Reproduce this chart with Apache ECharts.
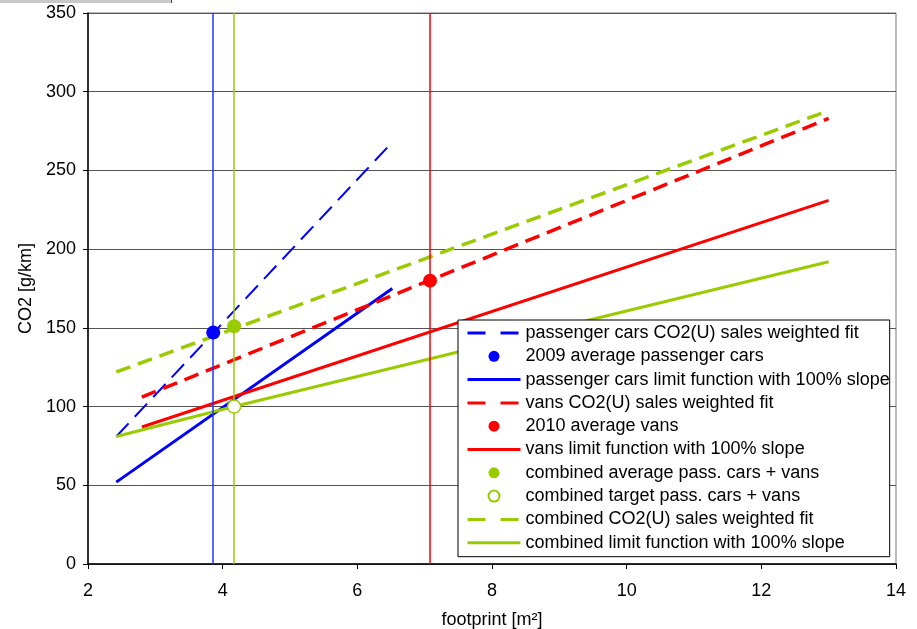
<!DOCTYPE html>
<html><head><meta charset="utf-8">
<script src="https://cdn.jsdelivr.net/npm/echarts@6/dist/echarts.min.js"></script>
<style>html,body{margin:0;padding:0;background:#fff}#c{width:917px;height:629px}</style>
</head><body><div id="c"></div>
<script>
// ---- data ----
const xTicks = [2, 4, 6, 8, 10, 12, 14];
const yTicks = [0, 50, 100, 150, 200, 250, 300, 350];
const seriesNames = [
  'passenger cars CO2(U) sales weighted fit',
  '2009 average passenger cars',
  'passenger cars limit function with 100% slope',
  'vans CO2(U) sales weighted fit',
  '2010 average vans',
  'vans limit function with 100% slope',
  'combined average pass. cars + vans',
  'combined target pass. cars + vans',
  'combined CO2(U) sales weighted fit',
  'combined limit function with 100% slope'
];
const pcFit = [[2.42, 81], [6.52, 268]];
const pcAvg = [[3.86, 147]];
const pcLimit = [[2.42, 52], [6.52, 175]];
const vanFit = [[2.8, 106], [13, 283]];
const vanAvg = [[7.08, 180]];
const vanLimit = [[2.8, 87], [13, 231]];
const combAvg = [[4.17, 151]];
const combTarget = [[4.17, 100]];
const combFit = [[2.42, 122], [13, 288]];
const combLimit = [[2.42, 81], [4.17, 100], [13, 192]];
const vLineX = { pc: 3.86, comb: 4.17, van: 7.08 };

// ---- styles ----
const BLUE = '#0000ff', RED = '#ff0000', GREEN = '#99cc00';
const FONT = "'Liberation Sans', Arial, sans-serif";

function lineSeries(name, data, color, width, dashed, dash) {
  return {
    name, type: 'line', data, symbol: 'none', silent: true, z: 3,
    lineStyle: { color, width, type: dashed ? dash : 'solid', cap: 'butt' },
    itemStyle: { color }
  };
}
function vLine(x, color) {
  return {
    symbol: 'none', silent: true, label: { show: false },
    lineStyle: { color, width: 1.5, type: 'solid' },
    data: [{ xAxis: x }], animation: false
  };
}
function dotSeries(name, data, color, fill, ml) {
  const s = {
    name, type: 'scatter', data, symbol: 'circle', symbolSize: fill ? 14 : 13, z: 5,
    itemStyle: fill ? { color, opacity: 1 } : { color: '#fff', borderColor: color, borderWidth: 1.5, opacity: 1 }
  };
  if (ml) s.markLine = ml;
  return s;
}

const series = [
  lineSeries(seriesNames[0], pcFit, BLUE, 2, true, [18, 9]),
  dotSeries(seriesNames[1], pcAvg, BLUE, true, vLine(vLineX.pc, '#2233ff')),
  lineSeries(seriesNames[2], pcLimit, BLUE, 3, false),
  lineSeries(seriesNames[3], vanFit, RED, 3.5, true, [15, 8]),
  dotSeries(seriesNames[4], vanAvg, RED, true, vLine(vLineX.van, RED)),
  lineSeries(seriesNames[5], vanLimit, RED, 3, false),
  dotSeries(seriesNames[6], combAvg, GREEN, true, vLine(vLineX.comb, GREEN)),
  dotSeries(seriesNames[7], combTarget, GREEN, false),
  lineSeries(seriesNames[8], combFit, GREEN, 3.5, true, [15, 8]),
  lineSeries(seriesNames[9], combLimit, GREEN, 3, false)
];
series[7].z = 6;

const lineIdx = [0, 2, 3, 5, 8, 9];
const dashedIdx = [0, 3, 8];
const legendData = seriesNames.map((n, i) => {
  const d = { name: n };
  if (lineIdx.indexOf(i) >= 0) {
    d.itemStyle = { opacity: 0, color: 'rgba(0,0,0,0)', borderWidth: 0 };
    d.lineStyle = { type: dashedIdx.indexOf(i) >= 0 ? [18, 15] : 'solid', width: 3 };
  }
  return d;
});

const chart = echarts.init(document.getElementById('c'), null, { renderer: 'canvas' });
chart.setOption({
  animation: false,
  backgroundColor: '#fff',
  textStyle: { fontFamily: FONT },
  grid: { left: 88, right: 21, top: 13, bottom: 65, show: true, borderColor: '#777', borderWidth: 1,
          backgroundColor: 'transparent', containLabel: false, outerBoundsMode: 'none' },
  xAxis: {
    type: 'value', min: xTicks[0], max: xTicks[xTicks.length - 1], interval: xTicks[1] - xTicks[0],
    name: 'footprint [m²]', nameLocation: 'middle', nameGap: 47,
    nameTextStyle: { fontSize: 18, color: '#000', fontFamily: FONT },
    axisLine: { show: true, lineStyle: { color: '#000', width: 1.5 } },
    axisTick: { show: true, length: 5, lineStyle: { color: '#000' } },
    axisLabel: { fontSize: 18, color: '#000', margin: 18, fontFamily: FONT },
    splitLine: { show: false }
  },
  yAxis: {
    type: 'value', min: yTicks[0], max: yTicks[yTicks.length - 1], interval: yTicks[1] - yTicks[0],
    name: 'CO2 [g/km]', nameLocation: 'middle', nameGap: 46, nameRotate: 90,
    nameTextStyle: { fontSize: 18, color: '#000', fontFamily: FONT },
    axisLine: { show: true, lineStyle: { color: '#000', width: 1.5 } },
    axisTick: { show: true, length: 5, inside: false, lineStyle: { color: '#000' } },
    axisLabel: { fontSize: 18, color: '#000', margin: 12, fontFamily: FONT },
    splitLine: { show: true, lineStyle: { color: '#555', width: 1 } }
  },
  legend: {
    orient: 'vertical', left: 458, top: 320,
    data: legendData,
    itemWidth: 53, itemHeight: 11, itemGap: 5.3,
    padding: [4, 0, 5, 8],
    borderColor: '#000', borderWidth: 1, backgroundColor: '#fff',
    textStyle: { fontSize: 18, lineHeight: 18, color: '#000', fontFamily: FONT },
    selectedMode: false
  },
  graphic: [
    { type: 'rect', left: 0, top: 0, shape: { width: 172, height: 3 }, style: { fill: '#c8c8c8' }, silent: true },
    { type: 'rect', left: 171, top: 0, shape: { width: 1, height: 3 }, style: { fill: '#444' }, silent: true }
  ],
  series
});
</script></body></html>
